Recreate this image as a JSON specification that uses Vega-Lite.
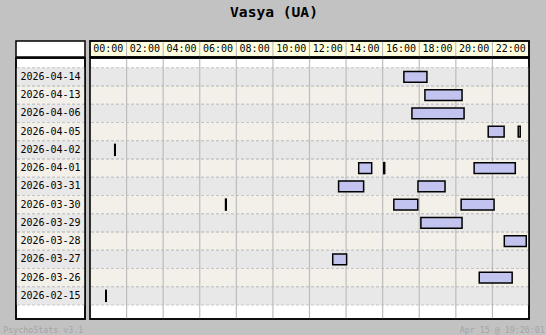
{
  "$schema": "https://vega.github.io/schema/vega-lite/v6.json",
  "background": "#c2c2c2",
  "padding": {"left": 2, "right": 4, "top": 4, "bottom": 1},
  "bounds": "flush",
  "title": {"text": "Vasya (UA)", "font": "DejaVu Sans Mono", "fontSize": 14.6, "fontWeight": "bold", "color": "black", "anchor": "middle", "offset": 20},
  "datasets": {
    "sessions": [
      {"date": "2026-04-14", "start": 17.16, "end": 18.42},
      {"date": "2026-04-13", "start": 18.31, "end": 20.34},
      {"date": "2026-04-06", "start": 17.6, "end": 20.45},
      {"date": "2026-04-05", "start": 21.77, "end": 22.64},
      {"date": "2026-04-05", "start": 23.41, "end": 23.52},
      {"date": "2026-04-02", "start": 1.35, "end": 1.38},
      {"date": "2026-04-01", "start": 14.69, "end": 15.4},
      {"date": "2026-04-01", "start": 16.06, "end": 16.11},
      {"date": "2026-04-01", "start": 21.0, "end": 23.25},
      {"date": "2026-03-31", "start": 13.59, "end": 14.96},
      {"date": "2026-03-31", "start": 17.93, "end": 19.41},
      {"date": "2026-03-30", "start": 7.41, "end": 7.45},
      {"date": "2026-03-30", "start": 16.61, "end": 17.92},
      {"date": "2026-03-30", "start": 20.29, "end": 22.09},
      {"date": "2026-03-29", "start": 18.09, "end": 20.34},
      {"date": "2026-03-28", "start": 22.65, "end": 23.85},
      {"date": "2026-03-27", "start": 13.27, "end": 14.03},
      {"date": "2026-03-26", "start": 21.28, "end": 23.08},
      {"date": "2026-02-15", "start": 0.86, "end": 0.89}
    ],
    "hours": [
      {"hour": 0, "label": "00:00"}, {"hour": 2, "label": "02:00"}, {"hour": 4, "label": "04:00"},
      {"hour": 6, "label": "06:00"}, {"hour": 8, "label": "08:00"}, {"hour": 10, "label": "10:00"},
      {"hour": 12, "label": "12:00"}, {"hour": 14, "label": "14:00"}, {"hour": 16, "label": "16:00"},
      {"hour": 18, "label": "18:00"}, {"hour": 20, "label": "20:00"}, {"hour": 22, "label": "22:00"}
    ],
    "frame": [{"f": 1}]
  },
  "columns": 2,
  "spacing": {"row": 1, "column": 5},
  "resolve": {"scale": {"x": "independent", "y": "independent"}},
  "concat": [
    {
      "width": 69, "height": 16,
      "view": {"fill": "white"},
      "data": {"name": "frame"},
      "mark": {"type": "rect", "fill": null, "stroke": "black", "strokeWidth": 1.5},
      "encoding": {}
    },
    {
      "width": 439, "height": 16,
      "view": {"fill": "#ffffe0"},
      "layer": [
        {
          "data": {"name": "hours"},
          "mark": {"type": "rule", "stroke": "#b4b4b4", "strokeWidth": 1},
          "encoding": {
            "x": {"field": "label", "type": "nominal", "bandPosition": 0, "axis": null, "scale": {"paddingInner": 0, "paddingOuter": 0}}
          }
        },
        {
          "data": {"name": "hours"},
          "mark": {"type": "text", "font": "DejaVu Sans Mono", "fontSize": 10, "color": "black"},
          "encoding": {
            "x": {"field": "label", "type": "nominal", "axis": null},
            "text": {"field": "label"}
          }
        },
        {
          "data": {"name": "frame"},
          "mark": {"type": "rect", "fill": null, "stroke": "black", "strokeWidth": 1.5},
          "encoding": {}
        }
      ]
    },
    {
      "width": 69, "height": 261,
      "view": {"fill": "white"},
      "title": {"text": "PsychoStats v3.1", "orient": "bottom", "anchor": "start", "font": "DejaVu Sans Mono", "fontSize": 8.3, "fontWeight": "normal", "color": "#a4a4a4", "dx": -12, "offset": 6},
      "layer": [
        {
          "data": {"name": "sessions"},
          "transform": [
            {"aggregate": [{"op": "count", "as": "n"}], "groupby": ["date"]},
            {"window": [{"op": "row_number", "as": "rn"}], "sort": [{"field": "date", "order": "descending"}]}
          ],
          "layer": [
            {
              "mark": {"type": "rect"},
              "encoding": {
                "y": {"field": "date", "type": "nominal", "sort": "descending", "axis": null, "scale": {"paddingInner": 0, "paddingOuter": 0.651, "align": 0.41}},
                "fill": {"condition": {"test": "datum.rn % 2 == 1", "value": "#e8e8e8"}, "value": "#f3f0ea"}
              }
            },
            {
              "mark": {"type": "rule", "stroke": "#c6c6c6", "strokeDash": [3, 2], "strokeWidth": 1},
              "encoding": {"y": {"field": "date", "type": "nominal", "sort": "descending", "bandPosition": 0, "axis": null}}
            },
            {
              "mark": {"type": "rule", "stroke": "#c6c6c6", "strokeDash": [3, 2], "strokeWidth": 1},
              "encoding": {"y": {"field": "date", "type": "nominal", "sort": "descending", "bandPosition": 1, "axis": null}}
            },
            {
              "mark": {"type": "text", "font": "DejaVu Sans Mono", "fontSize": 10, "color": "black"},
              "encoding": {
                "y": {"field": "date", "type": "nominal", "sort": "descending", "axis": null},
                "text": {"field": "date"}
              }
            }
          ]
        },
        {
          "data": {"name": "frame"},
          "mark": {"type": "rect", "fill": null, "stroke": "black", "strokeWidth": 1.5},
          "encoding": {}
        }
      ]
    },
    {
      "width": 439, "height": 261,
      "view": {"fill": "white"},
      "title": {"text": "Apr 15 @ 19:26:01", "orient": "bottom", "anchor": "end", "font": "DejaVu Sans Mono", "fontSize": 8.3, "fontWeight": "normal", "color": "#a4a4a4", "dx": 15, "offset": 6},
      "layer": [
        {
          "data": {"name": "sessions"},
          "transform": [
            {"aggregate": [{"op": "count", "as": "n"}], "groupby": ["date"]},
            {"window": [{"op": "row_number", "as": "rn"}], "sort": [{"field": "date", "order": "descending"}]}
          ],
          "layer": [
            {
              "mark": {"type": "rect"},
              "encoding": {
                "y": {"field": "date", "type": "nominal", "sort": "descending", "axis": null, "scale": {"paddingInner": 0, "paddingOuter": 0.651, "align": 0.41}},
                "fill": {"condition": {"test": "datum.rn % 2 == 1", "value": "#e8e8e8"}, "value": "#f3f0ea"}
              }
            },
            {
              "mark": {"type": "rule", "stroke": "#c6c6c6", "strokeDash": [3, 2], "strokeWidth": 1},
              "encoding": {"y": {"field": "date", "type": "nominal", "sort": "descending", "bandPosition": 0, "axis": null}}
            },
            {
              "mark": {"type": "rule", "stroke": "#c6c6c6", "strokeDash": [3, 2], "strokeWidth": 1},
              "encoding": {"y": {"field": "date", "type": "nominal", "sort": "descending", "bandPosition": 1, "axis": null}}
            }
          ]
        },
        {
          "data": {"name": "hours"},
          "mark": {"type": "rule", "stroke": "#bdbdbd", "strokeWidth": 1.2},
          "encoding": {"x": {"field": "hour", "type": "quantitative", "axis": null, "scale": {"domain": [0, 24], "nice": false, "zero": false}}}
        },
        {
          "data": {"name": "sessions"},
          "mark": {"type": "bar", "fill": "#c3c3ef", "stroke": "black", "strokeWidth": 1.5, "height": {"band": 0.6}},
          "encoding": {
            "x": {"field": "start", "type": "quantitative", "axis": null},
            "x2": {"field": "end"},
            "y": {"field": "date", "type": "nominal", "sort": "descending", "axis": null}
          }
        },
        {
          "data": {"name": "frame"},
          "mark": {"type": "rect", "fill": null, "stroke": "black", "strokeWidth": 1.5},
          "encoding": {}
        }
      ]
    }
  ],
  "config": {
    "view": {"stroke": "black", "strokeWidth": 1.5},
    "title": {"font": "DejaVu Sans Mono"}
  }
}
